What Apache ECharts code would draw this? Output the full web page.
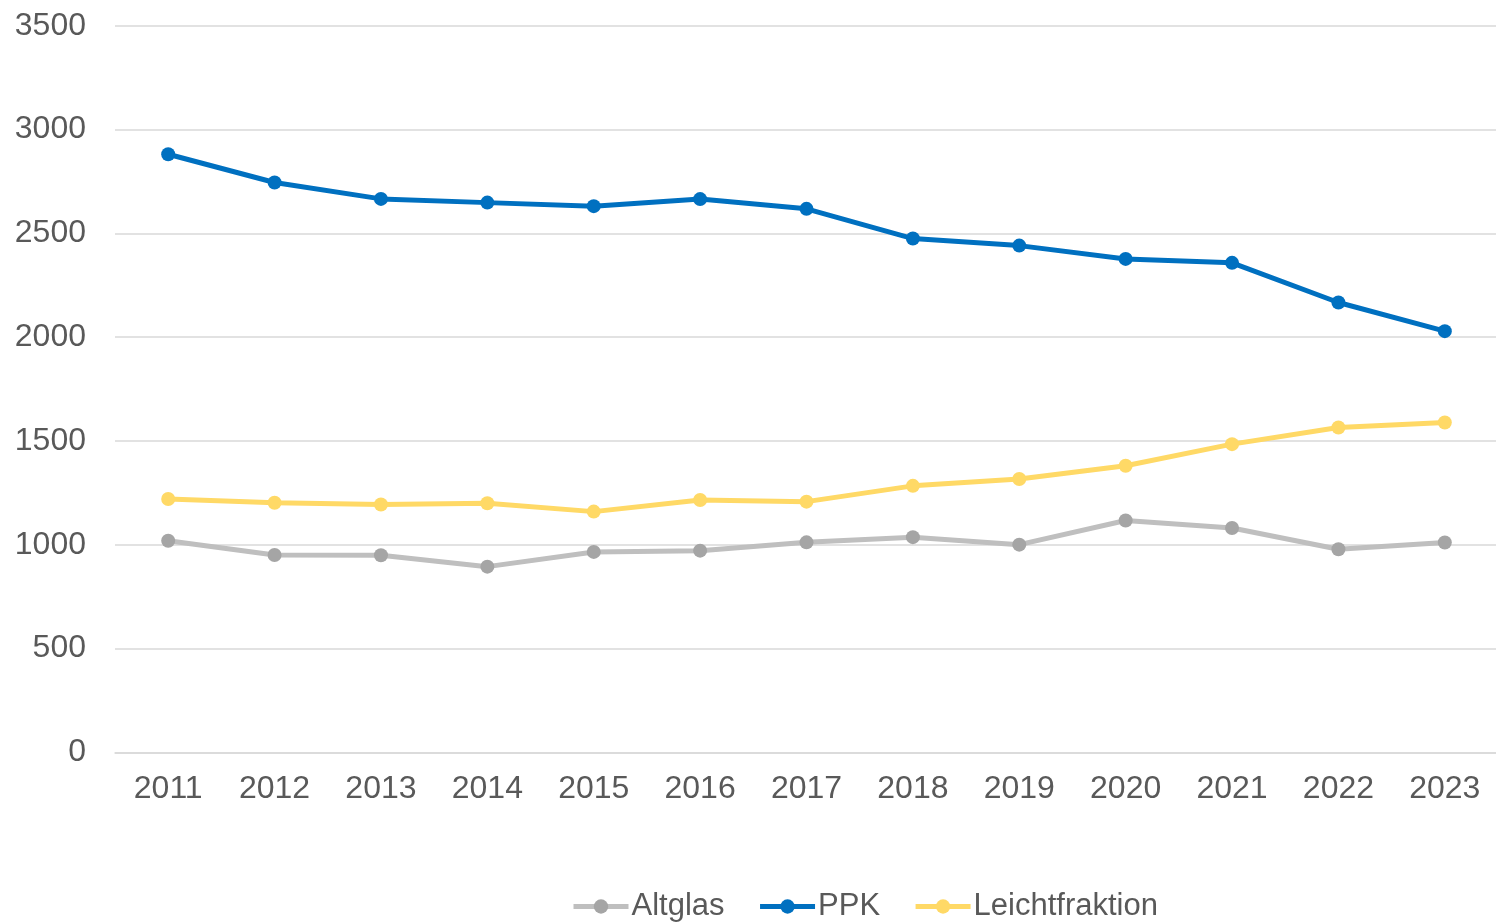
<!DOCTYPE html>
<html>
<head>
<meta charset="utf-8">
<script src="https://cdn.jsdelivr.net/npm/echarts@6/dist/echarts.min.js"></script>
<style>
html,body{margin:0;padding:0;background:#fff;overflow:hidden;width:1496px;height:923px;}
#chart{width:1500px;height:923px;}
</style>
</head>
<body>
<div id="chart"></div>
<script>
const categories = ['2011','2012','2013','2014','2015','2016','2017','2018','2019','2020','2021','2022','2023'];
const altglas = [1020, 951, 950, 895, 966, 972, 1012, 1037, 1001, 1117, 1081, 979, 1011];
const ppk = [2881, 2745, 2666, 2648, 2631, 2665, 2618, 2475, 2441, 2377, 2358, 2167, 2029];
const leichtfraktion = [1221, 1203, 1194, 1200, 1160, 1216, 1208, 1284, 1317, 1381, 1485, 1565, 1589];
const yTicks = {min: 0, max: 3500, interval: 500};

const font = 'Liberation Sans, Arial, sans-serif';
const textColor = '#595959';

const chart = echarts.init(document.getElementById('chart'));
function mk(name, data, lineColor, markerColor) {
  return {
    name: name,
    type: 'line',
    data: data,
    symbol: 'circle',
    symbolSize: 14,
    showSymbol: true,
    lineStyle: {color: lineColor, width: 5},
    itemStyle: {color: markerColor},
    emphasis: {disabled: true},
    animation: false
  };
}
chart.setOption({
  animation: false,
  grid: {left: 115, right: 2, top: 25.7, bottom: 170.5, containLabel: false},
  legend: {
    data: ['Altglas', 'PPK', 'Leichtfraktion'],
    left: 566,
    top: 886,
    itemWidth: 55,
    itemHeight: 18,
    itemGap: 33,
    lineStyle: {width: 5},
    textStyle: {fontFamily: font, fontSize: 31, color: textColor, padding: [0,0,0,-2]}
  },
  xAxis: {
    type: 'category',
    data: categories,
    boundaryGap: true,
    axisLine: {lineStyle: {color: '#d9d9d9', width: 1.5}},
    axisTick: {show: false},
    axisLabel: {fontFamily: font, fontSize: 32, color: textColor, margin: 21}
  },
  yAxis: {
    type: 'value',
    min: yTicks.min,
    max: yTicks.max,
    interval: yTicks.interval,
    axisLine: {show: false},
    axisTick: {show: false},
    splitLine: {lineStyle: {color: '#d9d9d9', width: 1.5}},
    axisLabel: {fontFamily: font, fontSize: 32, color: textColor, margin: 29, formatter: function (v) { return String(v); }}
  },
  series: [
    mk('Altglas', altglas, '#BFBFBF', '#A5A5A5'),
    mk('PPK', ppk, '#0070C0', '#0070C0'),
    mk('Leichtfraktion', leichtfraktion, '#FFD966', '#FFD966')
  ]
});
</script>
</body>
</html>
